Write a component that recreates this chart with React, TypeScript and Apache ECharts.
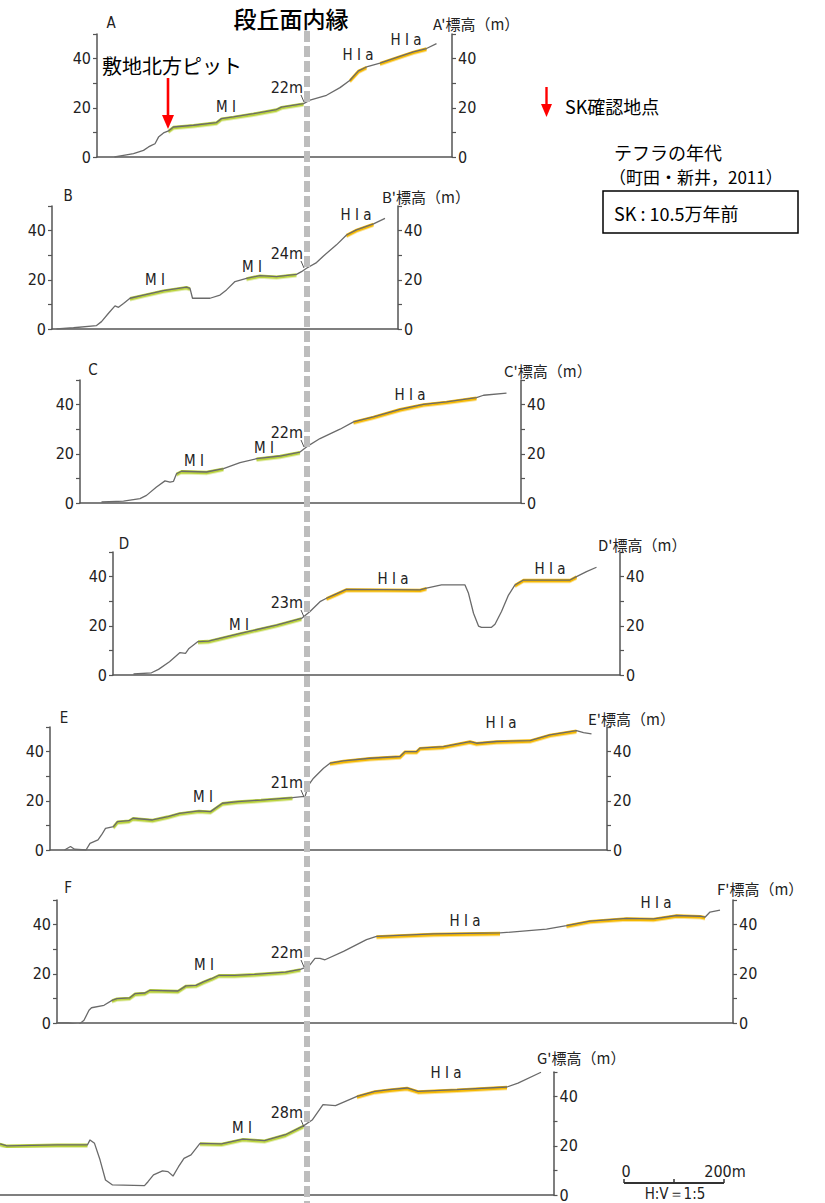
import React, { useEffect, useRef } from "react";
import * as echarts from "echarts";

// ---- data: distance (m) from the terrace inner edge, elevation (m) ----
type Pt = [number, number];

const profileA: Pt[] = [[-385,0],[-367,0.7],[-347,1.4],[-327,2.7],[-317,4.1],[-311,4.7],[-304,5.4],[-297,8.1],[-287,9.8],[-277,10.6],[-267,12.2],[-227,12.9],[-181,14.0],[-171,15.6],[-147,16.3],[-107,17.6],[-61,19.3],[-51,20.3],[-7,21.7],[6,23.1],[39,25.1],[66,28.2],[86,31.2],[103,35.0],[119,36.6],[146,38.2],[186,40.9],[213,42.7],[239,44.1],[259,46.1]];
const profileB: Pt[] = [[-501,0],[-467,0.5],[-421,1.4],[-411,3.0],[-397,6.4],[-384,9.4],[-377,8.8],[-367,10.4],[-354,12.5],[-327,13.8],[-287,15.6],[-241,17.0],[-234,16.5],[-229,12.5],[-194,12.5],[-174,13.8],[-161,15.9],[-144,19.3],[-121,20.6],[-94,21.7],[-61,21.3],[-21,22.2],[-11,23.3],[-1,24.7],[19,27.0],[33,29.7],[59,34.2],[79,38.2],[99,40.3],[133,42.7],[156,45.0]];
const profileC: Pt[] = [[-411,0.4],[-367,0.8],[-334,1.8],[-321,3.1],[-301,6.5],[-284,9.0],[-274,8.5],[-267,8.8],[-261,11.9],[-251,12.9],[-201,12.6],[-167,14.0],[-134,16.4],[-101,18.0],[-54,19.1],[-14,20.7],[-1,22.8],[26,26.2],[66,30.0],[93,33.0],[133,35.0],[186,38.1],[233,40.1],[279,41.1],[339,42.8],[353,43.8],[399,44.7]];
const profileD: Pt[] = [[-347,0.4],[-311,0.9],[-297,2.3],[-275,5.4],[-254,9.1],[-243,8.8],[-236,10.8],[-218,13.6],[-197,13.8],[-133,16.9],[-61,20.3],[-11,23.0],[6,25.8],[26,29.8],[39,31.2],[59,33.0],[79,34.8],[226,34.6],[239,35.3],[269,36.6],[316,36.6],[323,33.2],[333,25.1],[343,19.9],[349,19.4],[369,19.4],[376,20.6],[389,25.8],[403,32.5],[416,36.6],[433,38.6],[526,38.6],[539,40.0],[559,42.0],[579,43.8]];
const profileE: Pt[] = [[-485,0],[-473,1.4],[-465,0.3],[-442,0],[-434,2.7],[-418,4.1],[-411,6.1],[-403,8.8],[-387,9.5],[-379,11.5],[-356,11.9],[-348,12.9],[-309,12.2],[-278,13.6],[-255,14.9],[-216,15.9],[-193,15.6],[-169,19.0],[-138,19.7],[-92,20.3],[-29,21.3],[-10,21.7],[-4,21.7],[3,26.4],[13,29.2],[33,33.2],[46,35.3],[73,36.2],[126,37.3],[186,38.0],[196,40.0],[219,40.0],[226,41.4],[273,42.0],[326,44.1],[339,43.4],[379,44.1],[446,44.5],[486,46.8],[539,48.5],[553,47.7],[569,47.2]];
const profileF: Pt[] = [[-503,0],[-477,0],[-457,-0.7],[-446,1.1],[-436,5.2],[-431,6.2],[-406,7.2],[-390,9.2],[-380,9.9],[-355,10.2],[-344,11.9],[-324,12.2],[-314,13.3],[-258,13.0],[-242,15.1],[-222,15.3],[-207,16.7],[-191,18.0],[-176,19.4],[-145,19.4],[-105,19.8],[-43,20.7],[-13,21.8],[-7,22.3],[3,22.9],[16,26.3],[26,26.3],[36,25.7],[73,29.1],[119,33.9],[139,35.2],[253,36.2],[386,36.6],[479,38.2],[519,39.6],[566,41.4],[639,42.5],[693,42.3],[739,43.7],[786,43.4],[796,43.0],[806,45.1],[826,45.9]];
const profileG: Pt[] = [[-614,20.8],[-600,20.0],[-500,20.4],[-439,20.4],[-434,22.4],[-425,21.0],[-414,14.3],[-403,6.1],[-389,4.1],[-325,3.8],[-318,5.4],[-307,8.2],[-289,9.8],[-278,9.5],[-268,7.7],[-257,11.5],[-246,14.9],[-232,16.3],[-214,21.0],[-171,20.8],[-128,22.7],[-85,22.1],[-43,24.5],[-7,28.1],[11,30.6],[32,36.7],[57,36.3],[100,40.1],[136,42.1],[165,42.8],[200,43.5],[222,42.1],[300,42.8],[400,43.9],[422,45.5],[468,49.9]];

// terrace surfaces (distance ranges, m)
const miA: Pt[] = [[-277, -7]];
const hiaA: Pt[] = [[86, 125], [146, 245]];
const miB: Pt[] = [[-354, -234], [-141, -17]];
const hiaB: Pt[] = [[79, 139]];
const miC: Pt[] = [[-261, -167], [-127, -7]];
const hiaC: Pt[] = [[93, 339]];
const miD: Pt[] = [[-218, -11]];
const hiaD: Pt[] = [[39, 239], [416, 539]];
const miE: Pt[] = [[-395, -20]];
const hiaE: Pt[] = [[46, 539]];
const miF: Pt[] = [[-390, -13]];
const hiaF: Pt[] = [[123, 473], [506, 799]];
const miG: Pt[] = [[-614, -439], [-214, -7]];
const hiaG: Pt[] = [[64, 407]];

// axis extents (m)
const extentA: Pt = [-420, 290];
const extentB: Pt = [-510, 182];
const extentC: Pt = [-454, 428];
const extentD: Pt = [-388, 626];
const extentE: Pt = [-514, 600];
const extentF: Pt = [-500, 852];
const extentG: Pt = [-614, 493];

const sectionNames = ["A", "B", "C", "D", "E", "F", "G"];
const edgeElevLabels = ["22m", "24m", "22m", "23m", "21m", "22m", "28m"];
const yMin = 0;
const yMax = 50;
const yTickStep = 10;
const yLabelValues = [0, 20, 40];
const scaleBarMetres = 200;

// ---- layout ----
const M_PER_PX = 2;
const EDGE_PX = 307;
const AXIS_H = 123;
const AXIS_COLOR = "#555555";
const LINE_COLOR = "#6a6a6a";
const MI_COLOR = "#b9d23a";
const HIA_COLOR = "#f5b800";
const NUM_FONT = "'Liberation Sans Narrow', 'DejaVu Sans Condensed', 'Liberation Sans', sans-serif";
const JP_FONT = "'Noto Sans CJK JP', 'Noto Sans', sans-serif";

type Panel = {
  profile: Pt[]; mi: Pt[]; hia: Pt[]; extent: Pt; top: number; leftAxis: boolean;
  letter?: [number, number]; title: [number, number]; elevY: number;
  terraces: { t: string; x: number; y: number }[];
};

const panels: Panel[] = [
  { profile: profileA, mi: miA, hia: hiaA, extent: extentA, top: 34, leftAxis: true, letter: [111, 23], title: [433, 23], elevY: 87,
    terraces: [{ t: "M I", x: 226, y: 107 }, { t: "H I a", x: 358, y: 55 }, { t: "H I a", x: 406, y: 40 }] },
  { profile: profileB, mi: miB, hia: hiaB, extent: extentB, top: 206, leftAxis: true, letter: [68, 196], title: [382, 196], elevY: 253,
    terraces: [{ t: "M I", x: 155, y: 280 }, { t: "M I", x: 252, y: 267 }, { t: "H I a", x: 356, y: 215 }] },
  { profile: profileC, mi: miC, hia: hiaC, extent: extentC, top: 380, leftAxis: true, letter: [93, 370], title: [504, 370], elevY: 432,
    terraces: [{ t: "M I", x: 194, y: 461 }, { t: "M I", x: 264, y: 448 }, { t: "H I a", x: 410, y: 395 }] },
  { profile: profileD, mi: miD, hia: hiaD, extent: extentD, top: 552, leftAxis: true, letter: [124, 544], title: [598, 544], elevY: 602,
    terraces: [{ t: "M I", x: 239, y: 625 }, { t: "H I a", x: 393, y: 579 }, { t: "H I a", x: 550, y: 569 }] },
  { profile: profileE, mi: miE, hia: hiaE, extent: extentE, top: 727, leftAxis: true, letter: [64, 718], title: [588, 718], elevY: 782,
    terraces: [{ t: "M I", x: 203, y: 797 }, { t: "H I a", x: 501, y: 723 }] },
  { profile: profileF, mi: miF, hia: hiaF, extent: extentF, top: 900, leftAxis: true, letter: [68, 888], title: [717, 888], elevY: 952,
    terraces: [{ t: "M I", x: 204, y: 965 }, { t: "H I a", x: 465, y: 921 }, { t: "H I a", x: 656, y: 903 }] },
  { profile: profileG, mi: miG, hia: hiaG, extent: extentG, top: 1072, leftAxis: false, title: [537, 1057], elevY: 1112,
    terraces: [{ t: "M I", x: 242, y: 1128 }, { t: "H I a", x: 446, y: 1073 }] },
];

function txt(text: string, x: number, y: number, size: number, font: string, align = "left", fill = "#111", weight = "normal") {
  return {
    type: "text", x, y, z: 50, silent: true,
    style: { text, fill, fontSize: size, fontFamily: font, fontWeight: weight, align, textAlign: align, verticalAlign: "middle", textVerticalAlign: "middle" },
  };
}
function seg(x1: number, y1: number, x2: number, y2: number, stroke: string, lineWidth: number, z = 50) {
  return { type: "line", z, silent: true, shape: { x1, y1, x2, y2 }, style: { stroke, lineWidth } };
}

export default function App() {
  const ref = useRef<HTMLDivElement>(null);
  useEffect(() => {
    const chart = echarts.init(ref.current!, null, { renderer: "svg" });
    const grid: any[] = [];
    const xAxis: any[] = [];
    const yAxis: any[] = [];
    const series: any[] = [];

    panels.forEach((p, i) => {
      const left = EDGE_PX + p.extent[0] / M_PER_PX;
      const width = (p.extent[1] - p.extent[0]) / M_PER_PX;
      grid.push({ left, top: p.top, width, height: AXIS_H, outerBoundsMode: "none", containLabel: false });
      xAxis.push({
        type: "value", gridIndex: i, min: p.extent[0], max: p.extent[1],
        axisLine: { show: true, onZero: false, lineStyle: { color: AXIS_COLOR, width: 1.5 } },
        axisTick: { show: false }, axisLabel: { show: false }, splitLine: { show: false },
      });
      const yBase = {
        type: "value", gridIndex: i, min: yMin, max: yMax, interval: yTickStep,
        axisLine: { show: true, onZero: false, lineStyle: { color: AXIS_COLOR, width: 1.5 } },
        axisTick: { show: true, inside: false, length: 4, lineStyle: { color: AXIS_COLOR, width: 1.2 } },
        axisLabel: {
          formatter: (v: number) => (yLabelValues.includes(v) ? String(v) : ""),
          fontSize: 16, fontFamily: NUM_FONT, color: "#222", margin: 6,
        },
        splitLine: { show: false },
      };
      yAxis.push({ ...yBase, position: "left", show: p.leftAxis });
      yAxis.push({ ...yBase, position: "right" });

      const addHighlight = (ranges: Pt[], color: string) => {
        ranges.forEach(([a, b]) => {
          series.push({
            type: "line", xAxisIndex: i, yAxisIndex: 2 * i, silent: true, z: 2,
            data: p.profile.filter(([x]) => x >= a && x <= b),
            symbol: "none",
            lineStyle: { color, width: 2.4, shadowColor: color, shadowOffsetY: 1.4, shadowBlur: 1 },
          });
        });
      };
      addHighlight(p.mi, MI_COLOR);
      addHighlight(p.hia, HIA_COLOR);
      series.push({
        type: "line", xAxisIndex: i, yAxisIndex: 2 * i, silent: true, z: 3,
        data: p.profile, symbol: "none", lineStyle: { color: LINE_COLOR, width: 1.3 },
      });
    });

    chart.setOption({ animation: false, grid, xAxis, yAxis, series });

    const edgeX = chart.convertToPixel({ xAxisIndex: 0 }, 0) as number;
    const barLen = (chart.convertToPixel({ xAxisIndex: 0 }, scaleBarMetres) as number) - edgeX;

    const g: any[] = [];
    // terrace inner edge dashed line
    g.push({ type: "line", z: 40, silent: true, shape: { x1: edgeX, y1: 31, x2: edgeX, y2: 1203 },
      style: { stroke: "#bdbdbd", lineWidth: 6, lineDash: [11, 4] } });
    g.push(txt("段丘面内縁", edgeX - 16, 18, 23, JP_FONT, "center", "#000", "500"));

    panels.forEach((p, i) => {
      if (p.letter) g.push(txt(sectionNames[i], p.letter[0], p.letter[1], 15, NUM_FONT, "center", "#222"));
      g.push(txt(sectionNames[i] + "'標高（m）", p.title[0], p.title[1], 15, JP_FONT, "left", "#222"));
      g.push(txt(edgeElevLabels[i], edgeX - 4, p.elevY, 16, NUM_FONT, "right", "#222"));
      g.push(seg(edgeX - 6, p.elevY + 8, edgeX - 3, p.elevY + 15, "#555", 1));
      p.terraces.forEach((t) => g.push(txt(t.t, t.x, t.y, 15, NUM_FONT, "center", "#222")));
    });

    // SK pit annotation
    g.push(txt("敷地北方ピット", 102, 65, 20, JP_FONT, "left", "#000"));
    g.push(seg(168, 78, 168, 117, "#ff0000", 2.6, 60));
    g.push({ type: "polygon", z: 60, silent: true, shape: { points: [[162, 115], [174, 115], [168, 129]] }, style: { fill: "#ff0000" } });

    // legend
    g.push(seg(546.5, 87, 546.5, 106, "#ff0000", 2.4, 60));
    g.push({ type: "polygon", z: 60, silent: true, shape: { points: [[541, 104], [552, 104], [546.5, 117]] }, style: { fill: "#ff0000" } });
    g.push(txt("SK確認地点", 565, 106, 18, JP_FONT, "left", "#000"));
    g.push(txt("テフラの年代", 614, 152, 18, JP_FONT, "left", "#000"));
    g.push(txt("（町田・新井，2011）", 609, 176, 17, JP_FONT, "left", "#000"));
    g.push({ type: "rect", z: 50, silent: true, shape: { x: 603, y: 191, width: 195, height: 42 },
      style: { fill: "#fff", stroke: "#000", lineWidth: 1.5 } });
    g.push(txt("SK : 10.5万年前", 614, 213, 18, JP_FONT, "left", "#000"));

    // scale bar
    const sx = 624;
    const sy = 1183;
    g.push(seg(sx, sy, sx + barLen, sy, "#333", 2));
    g.push(seg(sx, sy - 4, sx, sy, "#333", 1.5));
    g.push(seg(sx + barLen / 2, sy - 4, sx + barLen / 2, sy, "#333", 1.5));
    g.push(seg(sx + barLen, sy - 4, sx + barLen, sy, "#333", 1.5));
    g.push(txt("0", sx + 2, 1171, 16, NUM_FONT, "center", "#222"));
    g.push(txt(scaleBarMetres + "m", sx + barLen + 1, 1171, 16, NUM_FONT, "center", "#222"));
    g.push(txt("H:V＝1:5", sx + barLen / 2 + 1, 1194, 15, NUM_FONT, "center", "#222"));

    chart.setOption({ graphic: { elements: g } });

    return () => chart.dispose();
  }, []);

  return (
    <div
      ref={ref}
      style={{ position: "absolute", left: 0, top: 0, width: 825, height: 1203, background: "#fff" }}
    />
  );
}
